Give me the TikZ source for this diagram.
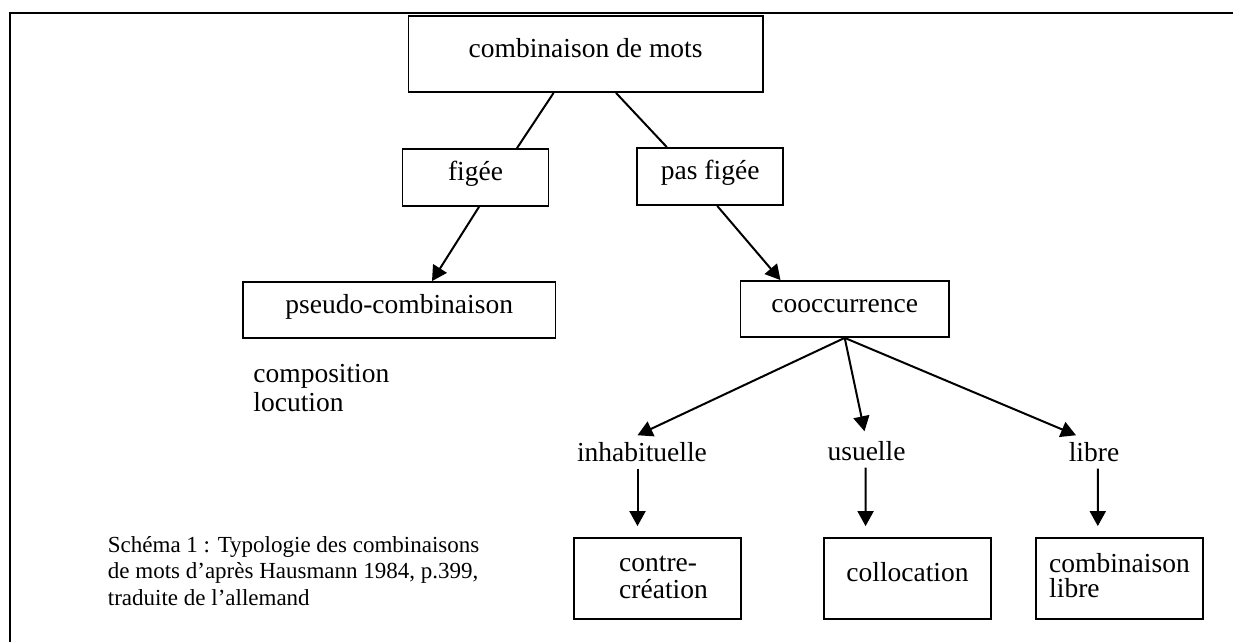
\documentclass[tikz,border=0pt]{standalone}
\usepackage{fontspec}
\setmainfont{Liberation Serif}
\usetikzlibrary{arrows.meta,calc}
\newcommand\mylbl{\fontsize{13.75}{13.5}\selectfont}
\newcommand\mydn[1]{\rule[-#1]{0pt}{#1}}
\begin{document}
\begin{tikzpicture}[x=0.5pt,y=-0.5pt,
  box/.style={draw, line width=0.9pt, inner sep=0pt, font=\mylbl},
  one/.style={text height=9.4pt, text depth=6pt},
  lab/.style={font=\mylbl},
  con/.style={line width=1pt},
  arr/.style={line width=1pt, -{Triangle[length=7.5pt,width=8pt]}}]
\useasboundingbox (0,0) rectangle (1233,642);
% frame
\draw[line width=1.2pt] (1240,13) -- (10,13) -- (10,650);
% nodes
\node[box, one, minimum width=177.1pt, minimum height=38pt] (top) at (585.6,54) {combinaison de mots};
\node[box, one, minimum width=72.95pt, minimum height=28.5pt] (figee) at (475.5,177.5) {figée};
\node[box, one, minimum width=73.15pt, minimum height=28.5pt] (pasfigee) at (710.2,176.5) {pas figée};
\node[box, one, minimum width=156.35pt, minimum height=28pt] (pseudo) at (399.2,310) {pseudo-combinaison};
\node[box, one, minimum width=104.15pt, minimum height=28pt] (cooc) at (844.7,309) {cooccurrence};
\node[anchor=west, align=left, inner sep=0pt, font=\fontsize{13.75}{14.5}\selectfont] (compo) at (253,388) {composition\\locution};
\node[lab] (inh) at (642,452) {inhabituelle};
\node[lab] (usu) at (866.5,451) {usuelle};
\node[lab] (lib) at (1094,452) {libre};
\node[box, minimum width=83.5pt, minimum height=40.5pt, align=left] (contre) at (657.5,578.5) {\hspace*{6pt}contre-\\\hspace*{6pt}création\mydn{1pt}};
\node[box, one, minimum width=83.5pt, minimum height=40.5pt] (colloc) at (907.5,578.5) {collocation};
\node[box, minimum width=83.5pt, minimum height=40.5pt, align=left, font=\fontsize{13.75}{12.5}\selectfont] (clibre) at (1119.5,578.5) {combinaison\\libre\mydn{3pt}};
\node[anchor=west, align=left, inner sep=0pt, font=\fontsize{11.5}{13.3}\selectfont] (caption) at (107.5,571) {Schéma 1 : Typologie des combinaisons\\de mots d’après Hausmann 1984, p.399,\\traduite de l’allemand};
% connectors
\draw[con] ($(top.south)+(-32,0)$) -- ($(figee.north)+(41.5,0)$);
\draw[con] ($(top.south)+(30.4,0)$) -- ($(pasfigee.north)+(-43.4,0)$);
\draw[arr] ($(figee.south)+(3.5,0)$) -- ($(pseudo.north)+(32.8,0)$);
\draw[arr] ($(pasfigee.south)+(7,0)$) -- ($(cooc.north)+(-64.2,0)$);
\draw[arr] (cooc.south) -- ($(inh.north)+(-4.5,0)$);
\draw[arr] (cooc.south) -- ($(usu.north)+(-2,-3)$);
\draw[arr] (cooc.south) -- ($(lib.north)+(-18,0)$);
\draw[arr] ($(inh.south)+(-4.5,0)$) -- ($(contre.north)+(-20,-11)$);
\draw[arr] ($(usu.south)+(-1,0)$) -- ($(colloc.north)+(-41.9,-11)$);
\draw[arr] ($(lib.south)+(3.8,0)$) -- ($(clibre.north)+(-21.7,-11)$);
\end{tikzpicture}
\end{document}
